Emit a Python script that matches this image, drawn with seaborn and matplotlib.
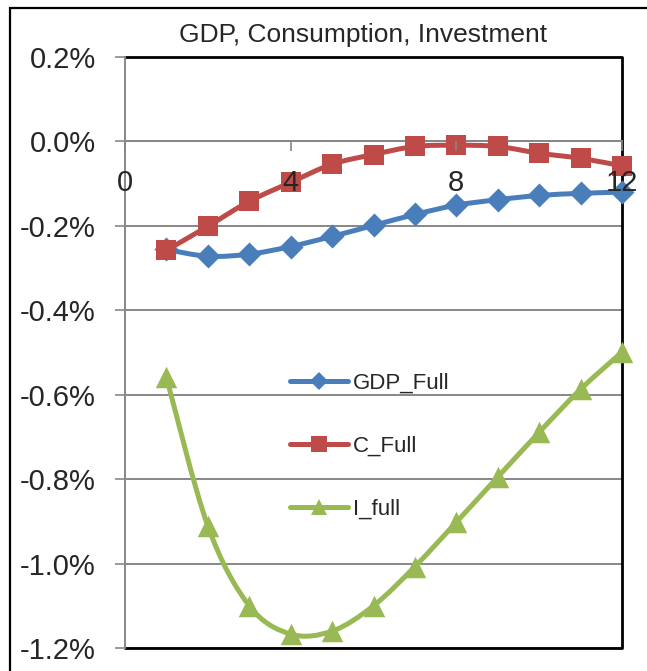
import numpy as np
import pandas as pd
import seaborn as sns
import matplotlib
matplotlib.use("Agg")
import matplotlib.pyplot as plt
from matplotlib.path import Path
from matplotlib.patches import PathPatch, Rectangle
from matplotlib.lines import Line2D
from matplotlib.ticker import FuncFormatter, MultipleLocator

# Impulse responses (% deviation from steady state) by quarter
periods = list(range(1, 13))
gdp_full = [-0.256, -0.272, -0.267, -0.249, -0.225, -0.199, -0.173, -0.151, -0.138, -0.128, -0.123, -0.120]
c_full = [-0.258, -0.201, -0.142, -0.097, -0.054, -0.031, -0.012, -0.009, -0.012, -0.028, -0.040, -0.058]
i_full = [-0.559, -0.911, -1.100, -1.167, -1.160, -1.100, -1.007, -0.902, -0.795, -0.689, -0.587, -0.499]
series_names = ["GDP_Full", "C_Full", "I_full"]
title = "GDP, Consumption, Investment"
x_ticks = [0, 4, 8, 12]

colors = {"GDP_Full": "#4A7EBB", "C_Full": "#BE4B48", "I_full": "#98B954"}
markers = {"GDP_Full": "D", "C_Full": "s", "I_full": "^"}
marker_sizes = {"GDP_Full": 150, "C_Full": 190, "I_full": 240}

df = pd.concat([
    pd.DataFrame({"period": periods, "value": vals, "series": name})
    for name, vals in zip(series_names, [gdp_full, c_full, i_full])
], ignore_index=True)

sns.set_theme(style="white")
plt.rcParams["font.family"] = ["Liberation Sans", "DejaVu Sans"]

fig = plt.figure(figsize=(6.47, 6.71), dpi=100)
ax = fig.add_axes([125 / 647, 1 - 648 / 671, 497 / 647, 591 / 671])

# outer chart border
fig.patches.append(Rectangle((10 / 647, -0.05), 1.1, 1 - 8 / 671 + 0.05,
                             transform=fig.transFigure, fill=False,
                             edgecolor="black", linewidth=1.6, zorder=0))


def smooth_path(xs, ys):
    """Cubic Bezier path through the points (Catmull-Rom tangents)."""
    pts = np.column_stack([xs, ys]).astype(float)
    ext = np.vstack([pts[0], pts, pts[-1]])
    verts = [tuple(pts[0])]
    codes = [Path.MOVETO]
    for i in range(len(pts) - 1):
        p0, p1, p2, p3 = ext[i], ext[i + 1], ext[i + 2], ext[i + 3]
        c1 = p1 + (p2 - p0) / 6.0
        c2 = p2 - (p3 - p1) / 6.0
        verts += [tuple(c1), tuple(c2), tuple(p2)]
        codes += [Path.CURVE4] * 3
    return Path(verts, codes)


for k, (name, vals) in enumerate(zip(series_names, [gdp_full, c_full, i_full])):
    patch = PathPatch(smooth_path(periods, vals), facecolor="none",
                      edgecolor=colors[name], linewidth=3.6,
                      capstyle="round", joinstyle="round", zorder=3 + 2 * k)
    patch.set_clip_on(False)
    ax.add_patch(patch)
    sns.scatterplot(data=df[df["series"] == name], x="period", y="value",
                    marker=markers[name], color=colors[name], s=marker_sizes[name],
                    edgecolor=colors[name], linewidth=0, ax=ax, zorder=4 + 2 * k,
                    legend=False, clip_on=False)

ax.set_xlim(0, 12)
ax.set_ylim(-1.2, 0.2)
ax.yaxis.set_major_locator(MultipleLocator(0.2))
ax.set_xticks(x_ticks)
ax.yaxis.set_major_formatter(FuncFormatter(lambda v, p: f"{0.0 if abs(v) < 1e-9 else v:.1f}%"))
ax.set_xlabel("")
ax.set_ylabel("")

ax.grid(axis="y", color="#878787", linewidth=1.4)
ax.grid(axis="x", visible=False)
ax.set_axisbelow(True)
# category labels sit above the series
ax.xaxis.set_zorder(12)

for side in ["top", "right"]:
    ax.spines[side].set_visible(False)
ax.spines["bottom"].set_position(("data", 0))
ax.spines["bottom"].set_color("#878787")
ax.spines["bottom"].set_linewidth(1.4)
ax.spines["left"].set_color("#878787")
ax.spines["left"].set_linewidth(1.4)
ax.spines["left"].set_zorder(2.5)

# plot-area frame on top, right and bottom
ax.plot([0, 1, 1, 0], [1, 1, 0, 0], transform=ax.transAxes, color="black",
        linewidth=2.0, clip_on=False, zorder=2)

ax.tick_params(axis="y", direction="out", length=7, width=1.2, color="#878787",
               pad=14, labelsize=21, left=True)
ax.tick_params(axis="x", direction="out", length=7, width=1.2, color="#878787",
               pad=13, labelsize=21, bottom=True)

fig.text(363 / 647, 1 - 35 / 671, title, ha="center", va="center", fontsize=19)

handles = [Line2D([0], [0], color=colors[n], linewidth=3.6, marker=markers[n],
                  markersize=11 if n != "GDP_Full" else 9, markeredgewidth=0)
           for n in series_names]
leg = ax.legend(handles, series_names, loc="center left",
                bbox_to_anchor=((290 - 125) / 497, (648 - 446) / 591),
                frameon=False, handlelength=2.6, handletextpad=0.25,
                labelspacing=1.9, borderpad=0, borderaxespad=0,
                prop={"size": 16})

fig.savefig("out.png", dpi=100)
